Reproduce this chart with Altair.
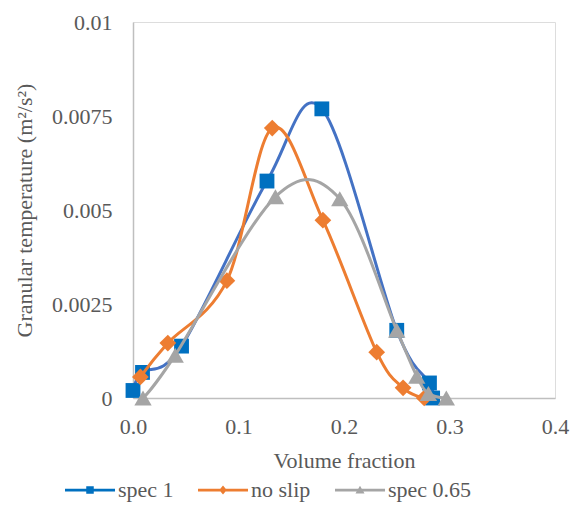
import altair as alt
import pandas as pd

series_names = ["spec 1", "no slip", "spec 0.65"]
spec1_x = [0.0, 0.009, 0.046, 0.127, 0.179, 0.250, 0.281, 0.284]
spec1_y = [0.0002, 0.00068, 0.00138, 0.00577, 0.00769, 0.0018, 0.0004, 0.0]
noslip_x = [0.007, 0.033, 0.089, 0.132, 0.180, 0.231, 0.256, 0.276]
noslip_y = [0.00056, 0.00146, 0.00312, 0.00718, 0.00473, 0.00122, 0.00027, 0.0]
spec065_x = [0.0095, 0.040, 0.135, 0.196, 0.250, 0.269, 0.280, 0.297]
spec065_y = [0.0, 0.00114, 0.00535, 0.0053, 0.0018, 0.00058, 0.00012, 0.0]
x_ticks = [0.0, 0.1, 0.2, 0.3, 0.4]
y_ticks = [0.0, 0.0025, 0.005, 0.0075, 0.01]

line_colors = ["#4472C4", "#ED7D31", "#A5A5A5"]
marker_colors = ["#0070C0", "#ED7D31", "#A5A5A5"]
shapes = ["square", "diamond", "triangle-up"]
marker_sizes = [220, 280, 300]
legend_paths = [
    "M-1,-0.055H1V0.055H-1Z M-0.15,-0.15H0.15V0.15H-0.15Z",
    "M-1,-0.055H1V0.055H-1Z M0,-0.18L0.15,0L0,0.18L-0.15,0Z",
    "M-1,-0.055H1V0.055H-1Z M0,-0.17L0.18,0.14L-0.18,0.14Z",
]

rows = []
for name, xs, ys in zip(series_names, [spec1_x, noslip_x, spec065_x], [spec1_y, noslip_y, spec065_y]):
    for xv, yv in zip(xs, ys):
        rows.append({"series": name, "x": xv, "y": yv})
df = pd.DataFrame(rows)

FONT = "Liberation Serif"
TXT = "#595959"
AX = "#BFBFBF"
FS = 22

xenc = alt.X("x:Q", scale=alt.Scale(domain=[0, 0.4], nice=False),
             axis=alt.Axis(values=x_ticks, format=".1f", title="Volume fraction",
                           grid=False, ticks=False, domainColor=AX, domainWidth=1.5,
                           labelFlush=False,
                           labelFont=FONT, labelFontSize=FS, labelColor=TXT, labelPadding=18,
                           titleFont=FONT, titleFontSize=FS, titleColor=TXT, titleFontWeight="normal",
                           titlePadding=13))
yenc = alt.Y("y:Q", scale=alt.Scale(domain=[0, 0.01], nice=False),
             axis=alt.Axis(values=y_ticks, labelExpr="datum.value + ''",
                           title="Granular temperature (m²/s²)",
                           grid=False, ticks=False, domainColor=AX, domainWidth=1.5,
                           labelFlush=False,
                           labelFont=FONT, labelFontSize=FS, labelColor=TXT, labelPadding=21,
                           titleFont=FONT, titleFontSize=FS, titleColor=TXT, titleFontWeight="normal",
                           titlePadding=15))

layers = []
for i, name in enumerate(series_names):
    base = alt.Chart(df).transform_filter(alt.datum.series == name)
    layers.append(base.mark_line(interpolate="cardinal", color=line_colors[i], strokeWidth=3)
                  .encode(x=xenc, y=yenc, order="x:Q"))
    layers.append(base.mark_point(shape=shapes[i], filled=True, opacity=1,
                                  color=marker_colors[i], size=marker_sizes[i])
                  .encode(x=xenc, y=yenc))

leg = alt.Legend(title=None, orient="none", direction="horizontal",
                 legendX=-68, legendY=443,
                 symbolSize=2500, symbolOpacity=1, symbolStrokeWidth=0,
                 labelFont=FONT, labelFontSize=FS, labelColor=TXT,
                 labelOffset=3, columnPadding=24)

legend_layer = alt.Chart(df).mark_point(filled=True, opacity=0).encode(
    x=xenc, y=yenc,
    color=alt.Color("series:N", scale=alt.Scale(domain=series_names, range=marker_colors), legend=leg),
    shape=alt.Shape("series:N", scale=alt.Scale(domain=series_names, range=legend_paths), legend=leg),
)

chart = alt.layer(*layers, legend_layer).properties(
    width=422, height=376,
    autosize=alt.AutoSizeParams(type="none"),
    padding={"left": 133, "top": 22, "right": 16, "bottom": 115},
).configure_view(stroke=None).configure(background="white")

chart.save("out.html", embed_options={"renderer": "svg", "actions": False})
